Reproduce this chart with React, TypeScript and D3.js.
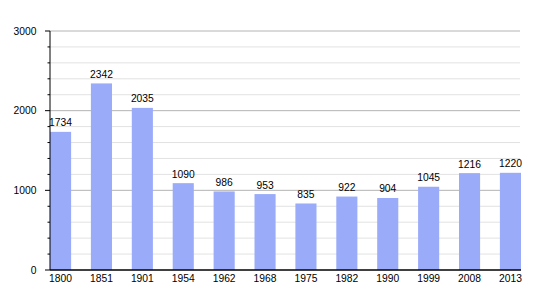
import React from "react";
import * as d3 from "d3";

const years = ["1800", "1851", "1901", "1954", "1962", "1968", "1975", "1982", "1990", "1999", "2008", "2013"];
const population = [1734, 2342, 2035, 1090, 986, 953, 835, 922, 904, 1045, 1216, 1220];
const majorTicks = [0, 1000, 2000, 3000];
const minorTicks = d3.range(0, 3001, 200);

export default function App() {
  const W = 550, H = 300;
  const left = 50, right = 521, top = 31, bottom = 270;
  const x = d3.scaleBand<string>().domain(years).range([left, right]).paddingInner(0.484).paddingOuter(0);
  const y = d3.scaleLinear().domain([0, 3000]).range([bottom, top]);
  const font = "Liberation Sans, Arial, sans-serif";
  const fs = 10.3;
  return (
    <svg width={W} height={H} style={{ position: "absolute", left: 0, top: 0 }} fontFamily={font}>
      <rect width={W} height={H} fill="#fff" />
      {minorTicks.filter(t => t % 1000 !== 0).map(t => (
        <g key={"m" + t}>
          <line x1={left} x2={520} y1={y(t)} y2={y(t)} stroke="#e2e2e2" strokeWidth={1} />
          <line x1={47.5} x2={left} y1={y(t)} y2={y(t)} stroke="#000" strokeWidth={1} />
        </g>
      ))}
      {majorTicks.map(t => (
        <g key={"M" + t}>
          {t > 0 && <line x1={left} x2={520} y1={y(t)} y2={y(t)} stroke="#b4b4b4" strokeWidth={1} />}
          <line x1={45} x2={left} y1={y(t)} y2={y(t)} stroke="#000" strokeWidth={1} />
          <text x={36.5} y={y(t) + 3.7} textAnchor="end" fontSize={fs} fill="#000">{t}</text>
        </g>
      ))}
      {years.map((yr, i) => (
        <g key={yr}>
          <rect x={x(yr)!} y={y(population[i])} width={x.bandwidth()} height={bottom - y(population[i])} fill="#9aabfa" />
          <text x={x(yr)! + x.bandwidth() / 2} y={y(population[i]) - 5.5} textAnchor="middle" fontSize={fs} fill="#000">{population[i]}</text>
          <text x={x(yr)! + x.bandwidth() / 2} y={bottom + 12.3} textAnchor="middle" fontSize={fs} fill="#000">{yr}</text>
        </g>
      ))}
      <line x1={left} x2={left} y1={top} y2={bottom} stroke="#000" strokeWidth={1} />
      <line x1={left} x2={right} y1={bottom} y2={bottom} stroke="#000" strokeWidth={1.5} />
    </svg>
  );
}
